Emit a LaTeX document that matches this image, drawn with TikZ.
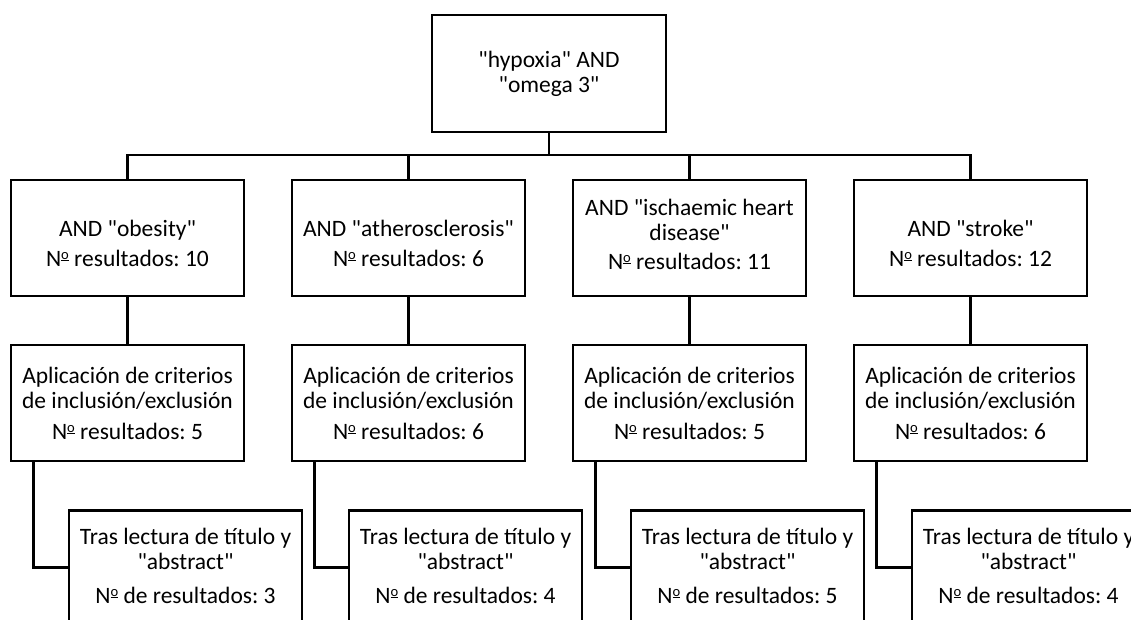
\documentclass[tikz,border=0pt]{standalone}
\usepackage{fontspec}
\setmainfont{Carlito}
\frenchspacing
\newcommand\q{\textquotedbl}
\newcommand\nord{\raisebox{0.62ex}{\scalebox{0.62}{\underline{o}}}}
\begin{document}
\begin{tikzpicture}[x=1pt,y=-1pt,
  box/.style={draw, line width=2.2pt, minimum width=233pt, minimum height=116pt, inner sep=0pt},
  txt/.style={align=center, inner sep=0pt, font=\fontsize{23.5}{25}\selectfont},
  link/.style={line width=2.2pt}]
\useasboundingbox (0,0) rectangle (1131,619);
\clip (0,0) rectangle (1131,619);
\node[box, minimum width=234pt, minimum height=117pt] (top) at (549,73.5) {};
\node[txt] (topt) at (top) {\q hypoxia\q{} AND\\\q omega 3\q};
% row 1
\node[box] (a1) at (127.5,238) {};
\node[box] (a2) at (408.5,238) {};
\node[box] (a3) at (689.5,238) {};
\node[box] (a4) at (970.5,238) {};
\node[txt, yshift=-5pt] (a1t) at (a1) {AND \q obesity\q\\[5pt]N\nord{} resultados: 10};
\node[txt, yshift=-5pt] (a2t) at (a2) {AND \q atherosclerosis\q\\[5pt]N\nord{} resultados: 6};
\node[txt, yshift=4pt] (a3t) at (a3) {AND \q ischaemic heart\\disease\q\\[4pt]N\nord{} resultados: 11};
\node[txt, yshift=-5pt] (a4t) at (a4) {AND \q stroke\q\\[5pt]N\nord{} resultados: 12};
% row 2
\node[box] (b1) at (127.5,403) {};
\node[box] (b2) at (408.5,403) {};
\node[box] (b3) at (689.5,403) {};
\node[box] (b4) at (970.5,403) {};
\node[txt] (b1t) at (b1) {Aplicación de criterios\\de inclusión/exclusión\\[6pt]N\nord{} resultados: 5};
\node[txt] (b2t) at (b2) {Aplicación de criterios\\de inclusión/exclusión\\[6pt]N\nord{} resultados: 6};
\node[txt] (b3t) at (b3) {Aplicación de criterios\\de inclusión/exclusión\\[6pt]N\nord{} resultados: 5};
\node[txt] (b4t) at (b4) {Aplicación de criterios\\de inclusión/exclusión\\[6pt]N\nord{} resultados: 6};
% row 3
\node[box, minimum height=114pt] (c1) at (185.5,567.5) {};
\node[box, minimum height=114pt] (c2) at (465.5,567.5) {};
\node[box, minimum height=114pt] (c3) at (747.5,567.5) {};
\node[box, minimum height=114pt] (c4) at (1028.5,567.5) {};
\node[txt, yshift=1.5pt] (c1t) at (c1) {Tras lectura de título y\\\q abstract\q\\[9pt]N\nord{} de resultados: 3};
\node[txt, yshift=1.5pt] (c2t) at (c2) {Tras lectura de título y\\\q abstract\q\\[9pt]N\nord{} de resultados: 4};
\node[txt, yshift=1.5pt] (c3t) at (c3) {Tras lectura de título y\\\q abstract\q\\[9pt]N\nord{} de resultados: 5};
\node[txt, yshift=1.5pt] (c4t) at (c4) {Tras lectura de título y\\\q abstract\q\\[9pt]N\nord{} de resultados: 4};
% connectors
\coordinate (bus) at (549,155);
\draw[link] (top.south) -- (bus);
\draw[link] (a1.north) -- (a1.north |- bus) -- (a4.north |- bus) -- (a4.north);
\draw[link] (a2.north) -- (a2.north |- bus);
\draw[link] (a3.north) -- (a3.north |- bus);
\foreach \i in {1,2,3,4}{
  \draw[link] (a\i.south) -- (b\i.north);
  \draw[link] ([xshift=23.5pt]b\i.south west) |- (c\i.west);
}
\end{tikzpicture}
\end{document}
